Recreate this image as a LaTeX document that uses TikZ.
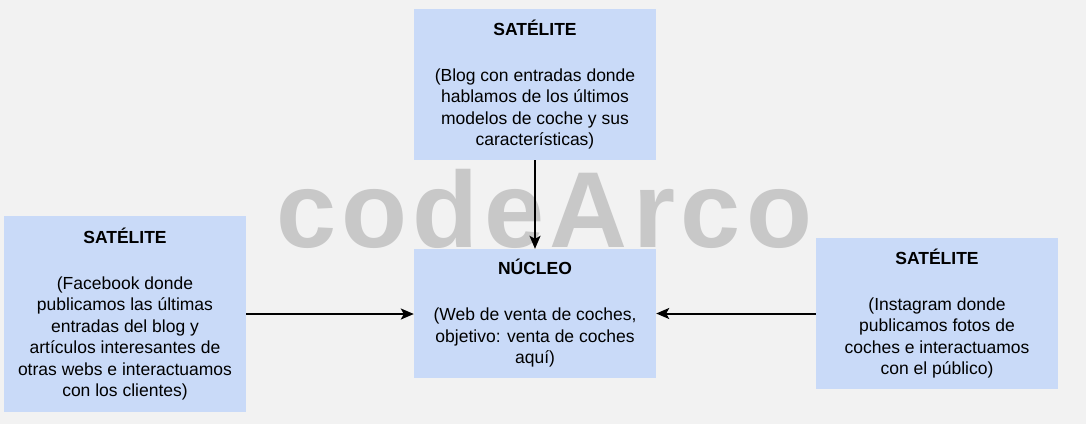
\documentclass[tikz,border=0pt]{standalone}
\usepackage{fontspec}
\setmainfont{Liberation Sans}
\usetikzlibrary{arrows.meta}
\definecolor{bgc}{HTML}{F2F2F2}
\definecolor{boxc}{HTML}{C9DAF8}
\definecolor{wmc}{HTML}{C8C8C8}
\tikzset{
  card/.style={rectangle, fill=boxc, draw=none, minimum width=242pt, inner sep=0pt,
    align=center, text=black, font=\fontsize{17.5}{21.5}\selectfont},
  link/.style={line width=2pt, draw=black, -{Stealth[length=13pt,width=11pt,inset=3pt]}},
  wm/.style={text=wmc, font=\fontsize{108}{110}\selectfont\bfseries\addfontfeature{LetterSpace=5}, inner sep=0pt, anchor=base west}
}
\begin{document}
\begin{tikzpicture}[x=1pt,y=-1pt]
\fill[bgc] (0,0) rectangle (1086,424);
\useasboundingbox (0,0) rectangle (1086,424);
\node[wm] (wmark) at (276,247) {codeArco};
\node[card, minimum height=151pt] (top) at (535,84.5) {\textbf{SATÉLITE}\\[24.5pt](Blog con entradas donde\\hablamos de los últimos\\modelos de coche y sus\\características)};
\node[card, minimum height=196pt] (left) at (125,314) {\textbf{SATÉLITE}\\[24.5pt](Facebook donde\\publicamos las últimas\\entradas del blog y\\artículos interesantes de\\otras webs e interactuamos\\con los clientes)};
\node[card, minimum height=129pt] (core) at (535,313.5) {\textbf{NÚCLEO}\\[24.5pt](Web de venta de coches,\\objetivo: venta de coches\\aquí)};
\node[card, minimum height=151pt] (right) at (937,313.5) {\textbf{SATÉLITE}\\[24.5pt](Instagram donde\\publicamos fotos de\\coches e interactuamos\\con el público)};
\draw[link] (top.south) -- (core.north);
\draw[link] (left.east) -- (left.east -| core.west);
\draw[link] (right.west) -- (right.west -| core.east);
\end{tikzpicture}
\end{document}
